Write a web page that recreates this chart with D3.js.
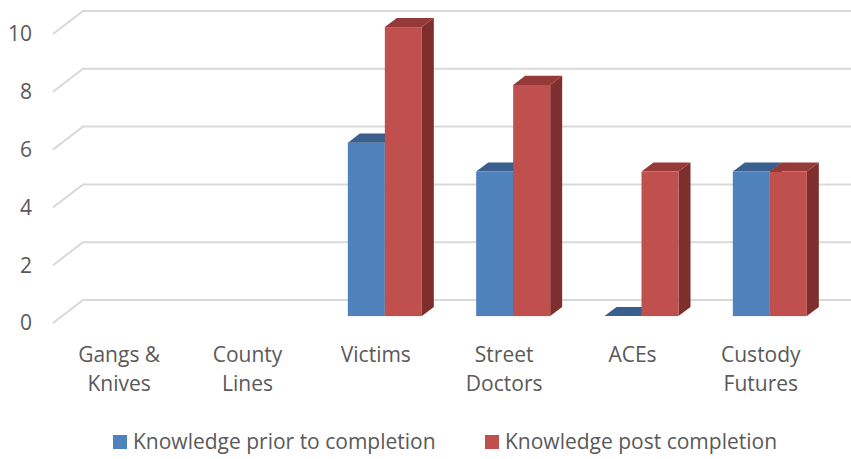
<!DOCTYPE html>
<html>
<head>
<meta charset="utf-8">
<script src="https://cdn.jsdelivr.net/npm/d3@7"></script>
<style>
  html, body { margin: 0; padding: 0; background: #ffffff; }
  svg { display: block; }
  text { font-family: "Open Sans", Lato, sans-serif; fill: #595959; }
</style>
</head>
<body>
<div id="chart"></div>
<script>
// Chart data
const categories = [["Gangs &", "Knives"], ["County", "Lines"], ["Victims"], ["Street", "Doctors"], ["ACEs"], ["Custody", "Futures"]];
const seriesNames = ["Knowledge prior to completion", "Knowledge post completion"];
const priorValues = [null, null, 6, 5, 0, 5];
const postValues  = [null, null, 10, 8, 5, 5];
const yTicks = [0, 2, 4, 6, 8, 10];

// Face colours per series: front, top, side
const faceColors = [
  { front: "#4f81bd", top: "#3a5f8c", side: "#2f4d72" },
  { front: "#c0504d", top: "#953a38", side: "#7d2e2d" }
];

const width = 851, height = 459;
const fontSize = "21px";
const svg = d3.select("#chart").append("svg")
  .attr("width", width).attr("height", height);

// Oblique depth offset of the whole plot volume (front wall -> back wall)
const depthDx = 30, depthDy = -23;
const wallLeft = 53;

// Vertical scale measured on the front plane
const y = d3.scaleLinear().domain([0, 10]).range([323, 34]);
// Category bands along the front edge of the floor
const x = d3.scaleBand().domain(d3.range(categories.length)).range([55, 825]);
const barWidth = 37;
const inner = d3.scaleBand().domain([0, 1]).range([-barWidth, barWidth]);
const barDepth0 = 0.3, barDepth1 = 0.7;

// Gridlines: short diagonal on the left wall, then along the back wall
const grid = svg.append("g");
yTicks.forEach(t => {
  const yf = y(t);
  grid.append("path")
    .attr("d", `M${wallLeft},${yf} L${wallLeft + depthDx},${yf + depthDy} L${width},${yf + depthDy}`)
    .attr("fill", "none")
    .attr("stroke", "#d9d9d9")
    .attr("stroke-width", 2);
});

// Value axis labels
svg.append("g").selectAll("text").data(yTicks).join("text")
  .attr("x", 32)
  .attr("y", d => y(d))
  .attr("dy", "0.35em")
  .attr("text-anchor", "end")
  .style("font-size", fontSize)
  .text(d => d);

// 3D columns
const bars = [];
categories.forEach((c, i) => {
  [priorValues[i], postValues[i]].forEach((v, s) => {
    if (v === null || v === undefined) return;
    bars.push({ i, s, v });
  });
});

const barsG = svg.append("g");
bars.forEach(b => {
  const fx0 = x(b.i) + x.bandwidth() / 2 + inner(b.s) + barDepth0 * depthDx;
  const fx1 = fx0 + barWidth;
  const fy0 = y(0) + barDepth0 * depthDy;
  const fyTop = y(b.v) + barDepth0 * depthDy;
  const ddx = (barDepth1 - barDepth0) * depthDx;
  const ddy = (barDepth1 - barDepth0) * depthDy;
  const col = faceColors[b.s];
  const g = barsG.append("g");
  // side face
  g.append("path")
    .attr("d", `M${fx1},${fy0} L${fx1 + ddx},${fy0 + ddy} L${fx1 + ddx},${fyTop + ddy} L${fx1},${fyTop} Z`)
    .attr("fill", col.side);
  // front face
  if (fy0 - fyTop > 0) {
    g.append("rect")
      .attr("x", fx0).attr("y", fyTop)
      .attr("width", barWidth).attr("height", fy0 - fyTop)
      .attr("fill", col.front);
  }
  // top face
  g.append("path")
    .attr("d", `M${fx0},${fyTop} L${fx0 + ddx},${fyTop + ddy} L${fx1 + ddx},${fyTop + ddy} L${fx1},${fyTop} Z`)
    .attr("fill", col.top);
});

// Category labels
const catG = svg.append("g");
categories.forEach((lines, i) => {
  const t = catG.append("text")
    .attr("x", x(i) + x.bandwidth() / 2)
    .attr("y", 355)
    .attr("text-anchor", "middle")
    .style("font-size", fontSize);
  lines.forEach((ln, k) => {
    t.append("tspan")
      .attr("x", x(i) + x.bandwidth() / 2)
      .attr("dy", k === 0 ? "0.35em" : "29px")
      .text(ln);
  });
});

// Legend
const legendItems = [{ x: 113 }, { x: 485 }];
const legend = svg.append("g");
seriesNames.forEach((name, s) => {
  const lx = legendItems[s].x;
  legend.append("rect")
    .attr("x", lx).attr("y", 435)
    .attr("width", 14).attr("height", 14)
    .attr("fill", faceColors[s].front);
  legend.append("text")
    .attr("x", lx + 20).attr("y", 442)
    .attr("dy", "0.35em")
    .style("font-size", fontSize)
    .text(name);
});
</script>
</body>
</html>
